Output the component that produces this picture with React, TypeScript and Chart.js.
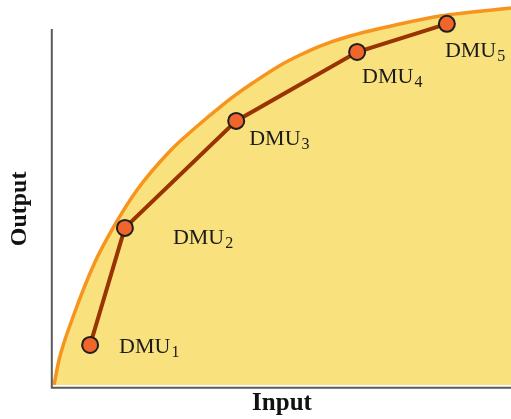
import { useEffect, useRef } from "react";
import { Chart, registerables } from "chart.js";

Chart.register(...registerables);

// DMU observations (input, output)
const dmuNames = ["1", "2", "3", "4", "5"];
const dmuInput = [8.1, 15.7, 40.0, 66.4, 86.0];
const dmuOutput = [10.4, 40.8, 68.6, 86.5, 93.8];

// Efficient frontier
const frontierInput = [0.22, 1.31, 4.37, 9.17, 13.1, 18.34, 25.55, 31.0, 36.46, 40.17, 43.67, 49.56, 53.93, 58.3, 64.85, 75.76, 84.5, 100];
const frontierOutput = [0, 6.49, 17.66, 31.95, 40.78, 50.65, 60.8, 66.75, 72.2, 75.6, 78.5, 83.0, 85.71, 88.05, 90.65, 93.77, 95.84, 97.92];

const xTitle = "Input";
const yTitle = "Output";
const labelPrefix = "DMU";
const yAxisTop = 92.5;

// label placement relative to each point (layout, not data)
const labelOffsets: [number, number][] = [
  [29, 8],
  [48, 16],
  [13, 24],
  [5, 31],
  [-2, 33],
];

const decorPlugin = {
  id: "decor",
  afterDraw(chart: any) {
    const { ctx, chartArea: a, scales } = chart;
    const topY = scales.y.getPixelForValue(yAxisTop);
    ctx.save();
    ctx.strokeStyle = "#5a5a5a";
    ctx.lineWidth = 2;
    ctx.beginPath();
    ctx.moveTo(a.left - 1.2, topY);
    ctx.lineTo(a.left - 1.2, a.bottom + 3.8);
    ctx.moveTo(a.left - 2.2, a.bottom + 2.8);
    ctx.lineTo(a.right, a.bottom + 2.8);
    ctx.stroke();
    ctx.restore();

    // y title
    ctx.save();
    ctx.translate(26.4, (topY + a.bottom) / 2 + 2);
    ctx.rotate(-Math.PI / 2);
    ctx.font = 'bold 24px "Liberation Serif"';
    ctx.textAlign = "center";
    ctx.textBaseline = "alphabetic";
    ctx.fillStyle = "#111111";
    ctx.fillText(yTitle, 0, 0);
    ctx.restore();

    // point labels
    const meta = chart.getDatasetMeta(0);
    ctx.save();
    ctx.fillStyle = "#1a1a1a";
    ctx.textAlign = "left";
    ctx.textBaseline = "alphabetic";
    meta.data.forEach((pt: any, i: number) => {
      const [dx, dy] = labelOffsets[i];
      const x = pt.x + dx;
      const y = pt.y + dy;
      ctx.font = '22px "Liberation Serif"';
      ctx.fillText(labelPrefix, x, y);
      const w = ctx.measureText(labelPrefix).width;
      ctx.font = '16px "Liberation Serif"';
      ctx.fillText(dmuNames[i], x + w + 1, y + 4);
    });
    ctx.restore();
  },
};

export default function App() {
  const ref = useRef<HTMLCanvasElement | null>(null);

  useEffect(() => {
    if (!ref.current) return;
    const chart = new Chart(ref.current, {
      type: "line",
      data: {
        datasets: [
          {
            label: "DMU",
            data: dmuInput.map((x, i) => ({ x, y: dmuOutput[i] })),
            borderColor: "#993300",
            borderWidth: 4,
            pointRadius: 8,
            pointBorderWidth: 2,
            pointBackgroundColor: "#F0662A",
            pointBorderColor: "#1e1e1e",
            fill: false,
            tension: 0,
            order: 0,
            clip: false,
          },
          {
            label: "Frontier",
            data: frontierInput.map((x, i) => ({ x, y: frontierOutput[i] })),
            borderColor: "#F7941D",
            borderWidth: 3.5,
            backgroundColor: "#F9E17E",
            pointRadius: 0,
            fill: "origin",
            cubicInterpolationMode: "monotone",
            order: 1,
          },
        ],
      },
      options: {
        responsive: false,
        maintainAspectRatio: false,
        animation: false,
        layout: { padding: 0, autoPadding: false },
        plugins: {
          legend: { display: false },
          tooltip: { enabled: false },
        },
        scales: {
          x: {
            type: "linear",
            min: 0,
            max: 100,
            grid: { display: false },
            border: { display: false },
            ticks: { display: false },
            title: {
              display: true,
              text: xTitle,
              font: { family: '"Liberation Serif"', size: 25, weight: "bold" },
              color: "#111111",
              padding: { top: 0, bottom: 0 },
            },
            afterFit: (s: any) => {
              s.height = 34;
            },
          },
          y: {
            type: "linear",
            min: 0,
            max: 100,
            grid: { display: false },
            border: { display: false },
            ticks: { display: false },
            afterFit: (s: any) => {
              s.width = 53;
            },
          },
        },
      },
      plugins: [decorPlugin],
    });
    return () => chart.destroy();
  }, []);

  return (
    <div style={{ position: "fixed", left: 0, top: 0, width: 511, height: 419, background: "#ffffff" }}>
      <canvas ref={ref} width={511} height={419} style={{ display: "block" }} />
    </div>
  );
}
